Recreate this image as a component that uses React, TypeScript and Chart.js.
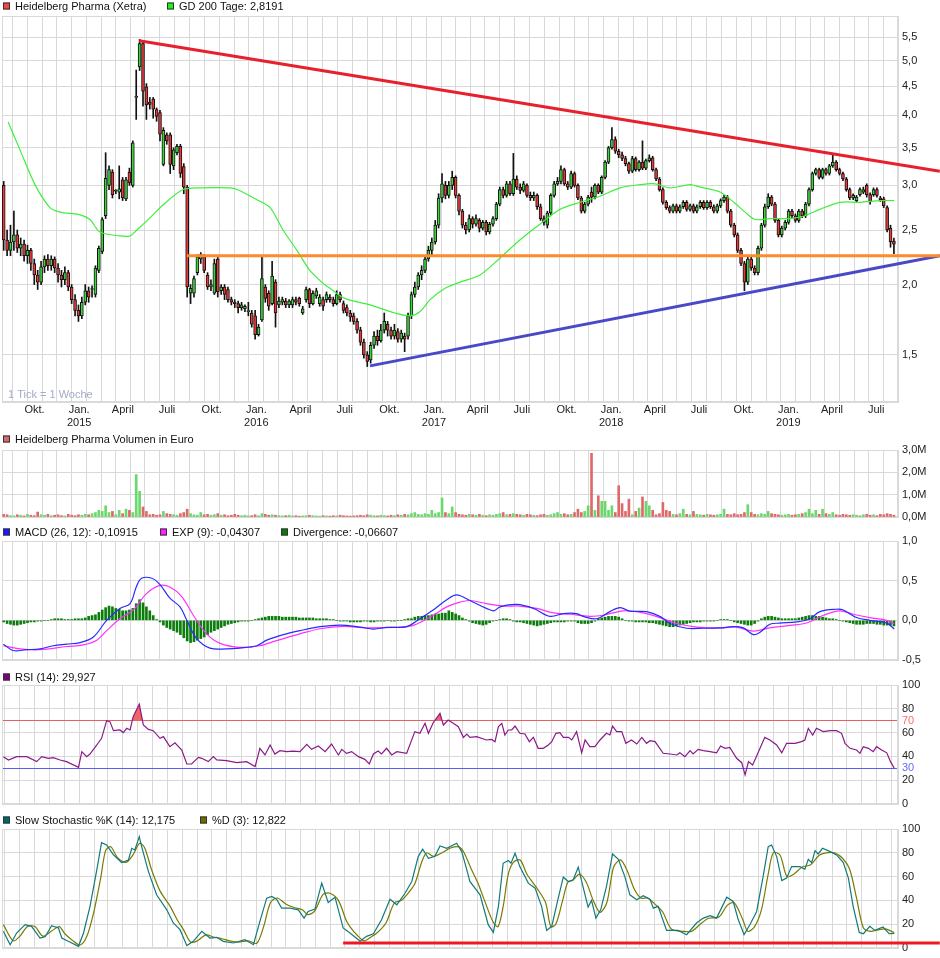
import React, { useEffect, useRef } from 'react';
import Chart from 'chart.js/auto';

// ---------- time axis ----------
const START_UTC = Date.UTC(2014, 6, 26);
const WEEK_MS = 7 * 86400000;
const X_MAX = 263.7;
const MONTH_LABELS = ['Jan.', '', '', 'April', '', '', 'Juli', '', '', 'Okt.', '', ''];

// ---------- weekly candles (Heidelberg Pharma, Xetra) ----------
const opens = [
  3.00,2.40,2.30,2.38,2.45,2.32,2.36,2.25,2.30,2.18,
  2.08,2.02,2.15,2.22,2.16,2.22,2.14,2.08,2.04,2.10,
  1.98,1.88,1.80,1.76,1.86,1.95,1.96,1.92,2.12,2.29,
  2.65,3.00,3.17,2.93,2.92,3.07,2.84,3.17,3.00,4.30,
  4.87,5.36,4.49,4.22,4.27,4.09,4.04,3.27,3.69,3.69,
  3.25,3.43,3.52,3.24,2.98,1.93,1.93,2.10,2.22,2.25,
  2.08,1.98,1.93,2.22,1.95,1.98,1.96,1.88,1.86,1.85,
  1.82,1.81,1.79,1.78,1.76,1.63,1.73,1.98,1.93,1.85,
  2.02,1.84,1.86,1.87,1.84,1.84,1.88,1.89,1.78,1.88,
  1.96,1.85,1.91,1.85,1.88,1.88,1.90,1.88,1.85,1.92,
  1.85,1.82,1.78,1.76,1.72,1.66,1.58,1.50,1.47,1.56,
  1.62,1.59,1.66,1.70,1.66,1.62,1.65,1.60,1.62,1.62,
  1.76,1.92,1.98,2.08,2.12,2.22,2.30,2.38,2.55,2.85,
  3.00,2.88,3.00,3.10,2.88,2.70,2.55,2.50,2.62,2.56,
  2.60,2.52,2.58,2.48,2.56,2.62,2.78,2.95,2.88,3.02,
  2.90,3.08,2.98,2.94,3.00,2.88,2.85,2.88,2.75,2.62,
  2.55,2.68,2.88,3.02,3.05,3.20,3.02,2.98,3.15,3.00,
  2.85,2.70,2.78,2.92,2.86,3.00,2.92,3.10,3.30,3.50,
  3.62,3.45,3.40,3.35,3.28,3.18,3.35,3.20,3.30,3.22,
  3.32,3.36,3.20,3.08,2.95,2.80,2.74,2.70,2.76,2.70,
  2.75,2.80,2.72,2.76,2.70,2.75,2.80,2.74,2.80,2.75,
  2.70,2.76,2.82,2.86,2.70,2.55,2.45,2.30,2.18,2.02,
  2.22,2.14,2.10,2.32,2.55,2.75,2.86,2.78,2.60,2.45,
  2.52,2.58,2.70,2.65,2.60,2.70,2.65,2.78,2.95,3.15,
  3.20,3.10,3.20,3.15,3.25,3.30,3.20,3.15,3.08,2.95,
  2.85,2.82,2.89,2.92,3.00,2.89,2.89,2.95,2.85,2.84,
  2.74,2.52,2.39
];
const highs = [
  3.05,2.50,2.55,2.70,2.50,2.42,2.40,2.35,2.32,2.22,
  2.12,2.20,2.25,2.26,2.25,2.24,2.18,2.12,2.15,2.12,
  2.00,1.92,1.84,1.90,2.00,1.98,1.99,2.16,2.34,2.63,
  3.43,3.25,3.20,2.95,3.25,3.10,3.10,3.22,3.60,4.81,
  5.45,5.40,4.55,4.30,4.30,4.12,4.08,3.80,3.72,3.72,
  3.50,3.55,3.55,3.28,3.00,2.00,2.07,2.26,2.28,2.26,
  2.10,2.04,2.22,2.25,2.00,2.00,1.98,1.90,1.88,1.87,
  1.86,1.84,1.86,1.80,1.80,1.70,2.25,2.00,1.95,2.20,
  2.04,1.90,1.90,1.89,1.88,1.90,1.90,1.90,1.83,1.98,
  1.97,1.95,1.97,1.92,1.90,1.94,1.92,1.90,1.95,1.94,
  1.87,1.84,1.80,1.78,1.74,1.68,1.60,1.52,1.58,1.65,
  1.66,1.70,1.78,1.72,1.68,1.70,1.67,1.66,1.64,1.78,
  1.94,2.02,2.10,2.16,2.25,2.34,2.42,2.60,2.90,3.15,
  3.05,3.05,3.18,3.12,2.90,2.72,2.58,2.66,2.64,2.66,
  2.62,2.60,2.60,2.58,2.64,2.80,2.98,2.98,3.05,3.05,
  3.42,3.12,3.02,3.05,3.02,2.92,2.92,2.90,2.78,2.65,
  2.70,2.90,3.05,3.10,3.25,3.22,3.05,3.18,3.17,3.02,
  2.87,2.80,2.88,2.98,3.02,3.02,3.12,3.32,3.52,3.80,
  3.66,3.48,3.44,3.38,3.30,3.38,3.37,3.32,3.60,3.34,
  3.40,3.38,3.22,3.10,2.97,2.82,2.76,2.78,2.78,2.77,
  2.82,2.82,2.78,2.78,2.77,2.82,2.82,2.82,2.82,2.77,
  2.78,2.84,2.88,2.88,2.72,2.57,2.47,2.32,2.20,2.25,
  2.24,2.16,2.34,2.57,2.78,2.90,2.88,2.80,2.62,2.54,
  2.60,2.72,2.72,2.67,2.72,2.72,2.80,2.97,3.17,3.22,
  3.22,3.22,3.22,3.27,3.42,3.32,3.22,3.17,3.10,2.97,
  2.90,2.88,2.97,2.98,3.02,2.91,2.97,2.97,2.87,2.86,
  2.76,2.55,2.42
];
const lows = [
  2.30,2.25,2.25,2.30,2.28,2.25,2.20,2.18,2.12,2.00,
  1.96,2.00,2.10,2.12,2.12,2.10,2.02,1.98,2.00,1.95,
  1.85,1.76,1.72,1.74,1.84,1.86,1.90,1.90,2.10,2.27,
  2.62,2.95,2.85,2.90,2.84,2.82,2.82,3.00,2.98,3.93,
  4.80,4.15,3.93,4.10,3.95,3.90,3.60,3.25,3.55,3.15,
  3.20,3.40,3.10,2.90,1.90,1.85,1.90,2.08,2.18,2.10,
  1.96,1.95,1.92,1.90,1.92,1.88,1.86,1.84,1.82,1.78,
  1.80,1.79,1.76,1.68,1.60,1.62,1.72,1.86,1.80,1.84,
  1.68,1.82,1.84,1.82,1.82,1.82,1.84,1.83,1.77,1.86,
  1.82,1.84,1.89,1.83,1.80,1.86,1.86,1.83,1.84,1.86,
  1.78,1.76,1.72,1.70,1.64,1.56,1.48,1.43,1.45,1.54,
  1.56,1.58,1.64,1.62,1.60,1.60,1.58,1.58,1.52,1.60,
  1.74,1.90,1.96,2.04,2.10,2.20,2.26,2.36,2.52,2.80,
  2.84,2.85,2.95,2.85,2.66,2.52,2.46,2.48,2.52,2.54,
  2.48,2.50,2.45,2.46,2.54,2.60,2.76,2.85,2.86,2.88,
  2.88,2.95,2.90,2.92,2.86,2.82,2.82,2.72,2.60,2.55,
  2.52,2.66,2.86,3.00,3.02,3.00,2.95,2.96,2.98,2.83,
  2.68,2.68,2.76,2.80,2.84,2.90,2.90,3.08,3.28,3.48,
  3.42,3.36,3.32,3.25,3.15,3.16,3.18,3.18,3.20,3.20,
  3.30,3.18,3.06,2.93,2.78,2.72,2.68,2.68,2.68,2.68,
  2.73,2.70,2.70,2.68,2.68,2.73,2.72,2.72,2.73,2.68,
  2.68,2.74,2.80,2.68,2.53,2.43,2.28,2.16,1.95,2.00,
  2.12,2.08,2.08,2.30,2.53,2.73,2.76,2.58,2.43,2.43,
  2.50,2.56,2.63,2.58,2.58,2.63,2.63,2.76,2.93,3.13,
  3.08,3.08,3.13,3.13,3.23,3.18,3.13,3.06,2.93,2.83,
  2.83,2.80,2.87,2.90,2.86,2.78,2.87,2.86,2.81,2.74,
  2.48,2.33,2.27
];
const closes = [
  2.40,2.30,2.38,2.45,2.32,2.36,2.25,2.30,2.18,2.08,
  2.02,2.15,2.22,2.16,2.22,2.14,2.08,2.04,2.10,1.98,
  1.88,1.80,1.76,1.86,1.95,1.90,1.96,2.14,2.32,2.61,
  3.09,3.20,2.89,2.93,2.96,2.85,3.07,3.03,3.57,4.32,
  5.36,4.41,4.17,4.18,4.10,3.98,3.70,3.76,3.60,3.27,
  3.47,3.52,3.15,2.98,1.98,1.97,2.05,2.24,2.26,2.12,
  1.98,2.00,2.18,1.94,1.98,1.92,1.88,1.86,1.85,1.82,
  1.84,1.83,1.79,1.70,1.63,1.68,2.05,1.89,1.83,2.07,
  1.78,1.87,1.88,1.84,1.87,1.88,1.86,1.85,1.81,1.96,
  1.85,1.93,1.95,1.90,1.83,1.92,1.88,1.85,1.92,1.88,
  1.80,1.78,1.75,1.72,1.66,1.58,1.50,1.46,1.56,1.62,
  1.59,1.66,1.72,1.66,1.62,1.66,1.60,1.64,1.60,1.76,
  1.92,1.98,2.08,2.12,2.22,2.30,2.38,2.55,2.85,3.02,
  2.88,3.00,3.10,2.88,2.70,2.55,2.50,2.62,2.56,2.62,
  2.52,2.58,2.48,2.56,2.62,2.78,2.95,2.88,3.02,2.90,
  3.08,2.98,2.94,3.02,2.88,2.85,2.88,2.75,2.62,2.58,
  2.68,2.88,3.02,3.05,3.20,3.02,2.98,3.15,3.00,2.85,
  2.70,2.78,2.86,2.86,3.00,2.92,3.10,3.30,3.50,3.62,
  3.45,3.40,3.35,3.28,3.18,3.35,3.20,3.30,3.22,3.32,
  3.36,3.20,3.08,2.95,2.80,2.74,2.70,2.76,2.70,2.75,
  2.80,2.72,2.76,2.70,2.75,2.80,2.74,2.80,2.75,2.70,
  2.76,2.82,2.86,2.70,2.55,2.45,2.30,2.18,2.02,2.22,
  2.14,2.10,2.32,2.55,2.75,2.86,2.78,2.60,2.45,2.52,
  2.58,2.70,2.65,2.60,2.70,2.65,2.78,2.95,3.15,3.20,
  3.10,3.20,3.15,3.25,3.30,3.20,3.15,3.08,2.95,2.85,
  2.88,2.86,2.95,2.95,2.89,2.81,2.95,2.88,2.83,2.76,
  2.50,2.38,2.36
];

// ---------- GD 200 ----------
const gdWeeks = [1.8,5.3,9.7,14.1,17.1,23.0,25.9,28.8,34.7,37.7,39.7,43.6,47.4,53.3,58.3,67.1,69.2,75.0,78.9,82.7,86.8,90.6,94.5,96.5,100.9,108.3,115.7,120.1,123.0,126.0,130.4,134.8,140.7,146.6,152.4,158.3,164.2,170.1,176.0,181.9,187.8,192.2,196.6,202.5,205.4,211.3,215.7,218.7,221.6,226.0,231.9,236.3,240.7,246.6,252.5,258.4,262.6];
const gdValues = [3.89,3.47,3.01,2.74,2.69,2.66,2.61,2.48,2.44,2.44,2.50,2.63,2.77,2.95,2.97,2.97,2.95,2.83,2.74,2.50,2.30,2.12,2.01,1.97,1.89,1.84,1.78,1.76,1.79,1.88,1.97,2.02,2.08,2.23,2.40,2.56,2.72,2.80,2.87,2.97,3.01,3.02,2.97,3.01,2.98,2.92,2.79,2.69,2.61,2.62,2.62,2.65,2.72,2.80,2.80,2.82,2.82];

// ---------- volume (Mio. Euro) ----------
const volumes = [
  0.12,0.10,0.06,0.05,0.10,0.08,0.05,0.12,0.08,0.06,
  0.22,0.10,0.08,0.12,0.06,0.08,0.10,0.06,0.05,0.12,
  0.08,0.06,0.10,0.08,0.12,0.10,0.15,0.20,0.30,0.25,
  0.50,0.20,0.25,0.10,0.30,0.15,0.35,0.30,0.20,1.90,
  1.15,0.45,0.25,0.10,0.12,0.08,0.10,0.25,0.15,0.12,
  0.10,0.08,0.15,0.20,0.35,0.15,0.10,0.08,0.20,0.10,
  0.12,0.08,0.10,0.15,0.08,0.10,0.06,0.08,0.12,0.08,
  0.06,0.08,0.05,0.06,0.10,0.06,0.15,0.12,0.08,0.10,
  0.08,0.06,0.05,0.06,0.08,0.05,0.06,0.04,0.05,0.06,
  0.08,0.06,0.05,0.04,0.06,0.05,0.04,0.06,0.05,0.08,
  0.06,0.05,0.04,0.05,0.06,0.08,0.06,0.10,0.08,0.06,
  0.05,0.08,0.06,0.05,0.08,0.06,0.10,0.08,0.12,0.10,
  0.15,0.20,0.12,0.10,0.15,0.12,0.30,0.15,0.20,0.85,
  0.20,0.15,0.45,0.20,0.12,0.10,0.08,0.12,0.10,0.08,
  0.12,0.08,0.06,0.10,0.08,0.12,0.15,0.20,0.10,0.12,
  0.15,0.12,0.10,0.08,0.12,0.10,0.08,0.06,0.10,0.12,
  0.08,0.10,0.15,0.20,0.12,0.15,0.10,0.12,0.20,0.35,
  0.20,0.25,0.50,2.85,0.30,0.95,0.70,0.70,0.30,0.50,
  0.20,1.40,0.60,0.25,0.80,0.10,0.25,0.40,0.90,0.70,
  0.50,0.30,0.10,0.15,0.65,0.30,0.25,0.12,0.10,0.15,
  0.35,0.12,0.10,0.25,0.12,0.10,0.08,0.12,0.10,0.08,
  0.10,0.12,0.35,0.12,0.10,0.15,0.10,0.12,0.20,0.55,
  0.20,0.12,0.10,0.15,0.12,0.25,0.15,0.12,0.10,0.08,
  0.10,0.12,0.08,0.10,0.12,0.15,0.20,0.35,0.15,0.30,
  0.12,0.35,0.15,0.12,0.20,0.10,0.08,0.12,0.10,0.08,
  0.10,0.08,0.06,0.10,0.12,0.08,0.10,0.06,0.12,0.10,
  0.15,0.12,0.08
];

// ---------- MACD ----------
const macdWeeks = [0.4,3.3,7.3,11.2,15.1,19.0,23.0,26.9,30.8,34.7,37.7,39.6,41.1,44.1,46.5,49.4,52.4,54.4,57.3,61.2,66.1,70.0,75.0,77.9,82.8,87.7,93.6,99.5,105.4,109.3,113.2,119.1,123.0,126.9,130.9,133.8,137.7,144.6,146.6,151.5,156.4,161.3,165.2,169.1,171.1,175.0,178.9,181.9,184.8,189.7,193.6,196.6,201.5,206.4,211.3,215.2,218.2,221.1,223.1,226.0,228.9,233.9,237.8,240.7,245.6,247.6,251.5,255.4,260.4,262.6];
const macdValues = [-0.30,-0.38,-0.37,-0.36,-0.32,-0.30,-0.28,-0.21,0.00,0.15,0.21,0.43,0.53,0.53,0.45,0.28,0.17,0.00,-0.23,-0.35,-0.36,-0.35,-0.32,-0.25,-0.18,-0.13,-0.08,-0.06,-0.085,-0.11,-0.09,-0.08,0.02,0.13,0.26,0.32,0.25,0.12,0.17,0.20,0.15,0.05,0.085,0.085,0.05,0.02,0.11,0.16,0.115,0.11,0.05,-0.04,-0.10,-0.10,-0.095,-0.08,-0.095,-0.18,-0.15,-0.05,-0.035,-0.02,0.02,0.11,0.14,0.13,0.035,0.00,-0.035,-0.109];
const expWeeks = [0.4,5.3,11.2,19.0,23.9,27.9,30.8,34.7,38.6,42.6,46.5,49.4,52.9,56.3,60.2,64.2,70.0,75.9,80.8,87.7,93.6,100.4,107.3,117.1,121.0,126.9,130.9,134.8,137.7,142.6,147.5,152.4,157.4,162.3,167.2,173.0,177.0,182.8,188.7,194.6,198.6,204.4,212.3,216.2,221.1,226.0,231.9,236.8,241.7,246.6,250.5,255.4,260.4,262.6];
const expValues = [-0.32,-0.36,-0.37,-0.33,-0.31,-0.25,-0.13,0.02,0.13,0.34,0.44,0.42,0.30,0.064,-0.17,-0.29,-0.34,-0.32,-0.255,-0.17,-0.106,-0.077,-0.094,-0.085,-0.064,0.064,0.17,0.23,0.25,0.21,0.18,0.18,0.15,0.094,0.077,0.05,0.064,0.12,0.094,0.02,-0.04,-0.085,-0.094,-0.085,-0.136,-0.094,-0.064,-0.034,0.064,0.12,0.077,0.034,0.00,-0.043];
const divergence = [
  -0.02,-0.04,-0.05,-0.06,-0.06, -0.05,-0.04,-0.03,-0.02,-0.02,
  -0.01,-0.01,0.00,0.00,0.01, 0.02,0.02,0.02,0.01,0.01,
  0.01,0.02,0.02,0.02,0.03, 0.05,0.06,0.07,0.10,0.13,
  0.16,0.18,0.17,0.15,0.14, 0.12,0.12,0.13,0.15,0.21,
  0.26,0.22,0.17,0.12,0.06, 0.01,-0.02,-0.06,-0.09,-0.11,
  -0.13,-0.15,-0.18,-0.22,-0.26, -0.28,-0.27,-0.25,-0.23,-0.21,
  -0.18,-0.15,-0.13,-0.11,-0.09, -0.07,-0.05,-0.04,-0.03,-0.02,
  -0.01,-0.01,-0.01,0.00,0.01, 0.02,0.03,0.04,0.05,0.05,
  0.05,0.05,0.04,0.04,0.04, 0.04,0.04,0.03,0.03,0.03,
  0.03,0.03,0.02,0.02,0.02, 0.02,0.01,0.01,0.00,-0.01,
  -0.01,-0.01,-0.02,-0.02,-0.02, -0.02,-0.01,-0.01,-0.02,-0.02,
  -0.01,-0.01,-0.01,0.00,-0.01, -0.01,0.00,0.00,0.01,0.02,
  0.02,0.04,0.05,0.05,0.06, 0.06,0.07,0.08,0.08,0.09,
  0.09,0.12,0.10,0.08,0.06, 0.03,0.01,-0.01,-0.03,-0.04,
  -0.05,-0.06,-0.05,-0.03,-0.01, 0.00,0.01,0.02,0.02,0.01,
  -0.01,-0.02,-0.02,-0.03,-0.04, -0.05,-0.06,-0.07,-0.06,-0.05,
  -0.04,-0.03,-0.02,-0.02,-0.02, -0.02,-0.01,-0.01,-0.01,-0.03,
  -0.04,-0.04,-0.04,-0.03,-0.01, 0.02,0.03,0.04,0.05,0.05,
  0.05,0.04,0.02,0.00,-0.01, -0.01,-0.02,-0.02,-0.02,-0.02,
  -0.03,-0.03,-0.04,-0.05,-0.06, -0.07,-0.08,-0.08,-0.07,-0.06,
  -0.05,-0.04,-0.03,-0.02,-0.02, -0.02,-0.01,-0.01,-0.01,-0.01,
  0.00,0.01,0.01,0.01,0.00, -0.02,-0.03,-0.04,-0.05,-0.06,
  -0.06,-0.04,-0.01,0.02,0.04, 0.05,0.05,0.04,0.03,0.02,
  0.02,0.02,0.02,0.02,0.03, 0.04,0.05,0.06,0.06,0.05,
  0.05,0.04,0.03,0.02,0.02, 0.01,0.00,-0.01,-0.02,-0.03,
  -0.04,-0.05,-0.05,-0.05,-0.04, -0.04,-0.04,-0.05,-0.05,-0.06,
  -0.06,-0.06,-0.07
];

// ---------- RSI (14) ----------
const rsiWeeks = [0.4,1.9,4.3,7.3,10.2,11.7,13.6,15.1,17.1,19.0,22.5,23.5,24.9,25.9,27.9,29.3,30.8,31.8,32.8,34.7,35.7,36.7,37.7,38.6,40.4,41.6,43.1,44.5,46.5,47.5,49.4,50.9,52.9,54.4,55.8,57.8,58.8,60.7,62.2,63.2,66.1,69.1,72.0,74.5,75.9,77.4,78.9,80.3,81.8,83.8,85.7,87.7,89.7,91.1,93.1,95.1,97.0,99.0,100.0,101.4,102.9,104.9,106.8,108.1,109.3,110.7,111.7,113.2,114.7,116.2,119.1,121.5,123.0,124.5,125.5,126.9,128.9,129.9,131.3,132.8,134.3,135.8,136.8,137.7,139.7,142.6,144.1,145.1,146.1,147.1,148.0,149.0,150.0,151.0,152.4,153.9,155.2,156.4,157.8,159.3,160.8,161.8,163.0,164.2,165.2,166.7,167.7,169.1,170.6,171.6,173.0,174.5,176.0,177.9,178.9,179.7,180.9,182.4,183.6,185.3,186.8,188.3,189.7,190.7,192.2,194.6,196.6,198.6,199.5,201.0,202.5,203.4,204.9,206.4,208.4,210.3,211.5,212.8,214.2,216.2,217.7,218.7,219.7,220.9,222.1,224.5,226.0,228.0,229.5,230.9,233.4,235.3,236.3,237.3,238.6,239.7,241.7,243.7,245.6,247.1,248.1,249.6,251.5,252.5,253.5,255.0,256.4,257.4,258.9,260.4,261.5,262.6];
const rsiValues = [39.8,37,39.8,39.8,35.6,39.8,38.4,39,37,35.6,30.8,44,39.8,42,49.6,55.2,70,69,61.6,62.2,60,63.6,62.2,73.4,84,66.4,62.7,61.6,55.2,56.6,48.2,51.5,45.4,33.6,33.6,39.2,38.4,35.6,39.8,37,36.4,34.7,35.6,31.4,46.8,41.2,49.6,42,44.8,44,44.5,44,50.1,45.9,48.7,44,50.4,41.2,45.9,42.5,44,39.8,37.5,33.6,42,44.5,42,46.8,41.2,44,42.6,60.8,59.4,67.8,59.4,68.3,76.2,66.4,70.6,67.8,65,56,58.8,56,56.6,53.8,54.3,52.4,65,67.8,58,62.2,62.2,65.5,59.4,58.8,52.4,56,46.8,46.8,49.6,52.4,59.4,59.9,56,56,53.8,60.8,43,53.8,48.2,48.2,53.8,59.4,58,65.5,60.8,60.8,51,53.8,50.4,56,51,53.2,52.4,42.6,42,41.2,43,39.8,44.8,42,45.9,44.8,44,43,48.7,46.8,47.6,38.4,34.7,24.4,35.6,32.8,40.3,56,53.8,49.6,43,51,51,52.4,53.8,63.6,58,63.6,60.8,61.6,61.6,59.4,51,46.8,45.4,42.6,48.2,46.8,44,48.2,45.4,43,35.6,30];

// ---------- Slow Stochastic ----------
const stochKWeeks = [0.4,2.4,4.3,6.8,8.7,11.2,12.7,14.6,16.6,17.6,19.5,22.5,24.0,25.9,27.9,29.3,30.8,32.8,35.2,37.2,38.2,39.1,40.4,41.1,43.1,45.5,48.5,50.4,52.4,54.4,56.3,58.8,61.2,63.2,65.1,68.1,71.5,74.0,75.9,77.9,79.4,80.8,82.3,84.8,87.2,88.9,90.1,92.1,94.1,96.0,98.0,100.4,102.4,105.4,107.3,109.3,111.7,114.2,116.2,118.6,120.6,122.5,123.8,125.5,127.4,128.9,130.9,133.8,135.3,136.8,137.7,140.7,143.1,144.6,146.1,147.5,149.0,149.8,151.0,152.4,154.9,156.9,158.8,160.3,161.8,163.7,165.2,166.7,168.1,169.6,171.1,172.5,173.5,174.8,176.2,177.9,179.7,181.4,183.3,184.8,186.8,188.7,190.7,191.7,193.1,195.6,199.0,201.5,204.4,206.4,208.4,210.3,213.3,215.2,216.7,218.4,220.1,222.1,224.0,225.5,226.5,228.0,229.5,230.9,232.4,234.8,236.3,237.3,238.3,239.3,240.2,241.5,243.7,245.6,247.6,249.1,250.5,252.3,253.5,255.4,256.9,259.3,261.1,262.6];
const stochKValues = [14,2.8,12.6,19.6,18.2,8.4,9.5,18.7,16.8,8.4,5.6,1.4,12.6,35,65.6,88.5,86.6,78.2,71.8,74,83.8,82.4,93.6,85.2,64.2,44.7,32.1,21,15.4,2,5.6,14,8.4,9,5.6,4.2,7,2.8,22.3,41.9,43.3,41,33.5,33.5,32.1,25.1,30.7,32.7,54.5,38.3,42.7,16.8,12.6,5.6,9.8,12,23.7,41,36.3,46,55.9,76.8,83,75.4,77,85.8,83.8,88,81,65.6,55.9,44.7,19.6,13.1,35,71.2,73.5,71.2,79.6,68.4,54.5,50.3,35,14.8,18.2,41.9,59.5,55.9,57.3,67.9,50.3,34.4,40,25.1,32.1,51.7,79,74.6,60,44.7,40.5,43.9,41,33.5,35,14.8,14.8,11.2,21,25.1,27.1,25.1,42.7,39.1,23.7,11.2,19.6,30.7,60,85.2,86.6,76.8,56.7,58.7,68.4,68.4,66.2,74.6,71.8,81.8,79,83.8,81,78.2,71.8,58.7,35,13.1,12,18.2,14.8,17.6,12,12.175];
const stochDWeeks = [0.4,3.3,5.3,7.5,9.7,12.0,14.5,16.8,18.5,20.5,23.0,25.0,27.0,29.0,30.5,32.0,34.0,36.5,38.5,40.5,42.0,44.0,46.5,49.5,51.5,53.5,55.5,57.5,60.0,62.5,64.5,67.0,69.5,72.5,75.0,77.0,79.0,81.0,83.5,86.0,88.5,90.0,92.0,94.5,96.5,99.0,101.5,103.5,106.5,108.5,110.5,113.0,115.5,117.5,119.5,121.5,123.5,125.0,127.0,129.5,132.0,134.5,136.0,138.0,140.0,142.0,144.5,146.0,147.5,149.0,150.5,152.5,154.5,157.5,160.0,161.5,163.0,165.0,166.5,168.0,170.0,172.0,174.0,176.0,178.0,180.0,182.0,184.0,186.0,188.0,190.0,192.5,194.5,197.0,200.5,203.0,205.5,208.0,211.0,213.5,215.5,218.0,219.5,221.5,223.5,225.5,227.0,229.0,231.0,233.0,235.5,238.0,240.5,242.5,245.0,247.5,249.5,251.5,253.5,255.5,257.5,260.0,262.6];
const stochDValues = [19.6,6,10,18,18,10,14,18,12,7,2.5,10,30,58,82,85,76,72,78,88,84,66,48,35,24,15,5,6,11,9,8,6,5,6,4,18,38,42,37,34,32,28,31,45,46,40,22,14,6,9,13,21,38,40,46,54,72,80,77,80,84,85,80,67,55,40,22,18,35,62,72,74,62,50,38,18,20,40,55,57,62,55,40,30,38,68,74,65,50,42,42,36,30,16,14,14,20,25,26,36,38,24,14,18,32,62,80,78,60,62,68,70,78,80,80,75,66,42,17,14,15,16,12.822];

// ---------- drawn studies ----------
const resistanceLine = [[40.4, 5.42], [276.0, 3.18]];
const supportLine = [[108.3, 1.434], [276.0, 2.25]];
const horizontalLine = [[54.4, 2.25], [276.0, 2.25]];
const stochLowLine = [[100.4, 4.2], [276.0, 4.2]];

// ---------- axis ticks ----------
const priceTicks = [1.5, 2.0, 2.5, 3.0, 3.5, 4.0, 4.5, 5.0, 5.5];
const volumeTicks = [0, 1, 2, 3];
const macdTicks = [-0.5, 0, 0.5, 1.0];
const rsiTicks = [0, 20, 30, 40, 60, 70, 80, 100];
const stochTicks = [0, 20, 40, 60, 80, 100];

// ---------- styling ----------
const GRID = '#d9d9d9';
const FONT = '"Liberation Sans", Arial, sans-serif';
const UP = '#3cd63c';
const DOWN = '#e83a3a';

Chart.defaults.font.family = FONT;
Chart.defaults.font.size = 11;
Chart.defaults.color = '#222';

const MONTHS: { value: number; label: any }[] = (() => {
  const out: { value: number; label: any }[] = [];
  for (let y = 2014; y <= 2019; y++) {
    for (let m = 0; m < 12; m++) {
      const w = (Date.UTC(y, m, 1) - START_UTC) / WEEK_MS;
      if (w > 0 && w < X_MAX) out.push({ value: w, label: m === 0 ? ['Jan.', String(y)] : MONTH_LABELS[m] });
    }
  }
  return out;
})();

function xScale(showLabels: boolean, height: number) {
  return {
    type: 'linear',
    min: 0,
    max: X_MAX,
    offset: false,
    grid: { color: GRID, drawTicks: false, lineWidth: 1 },
    border: { display: true, color: GRID },
    ticks: {
      display: showLabels,
      autoSkip: false,
      maxRotation: 0,
      minRotation: 0,
      padding: 1,
      color: '#222',
      font: { size: 11, family: FONT },
      callback: (_v: any, i: number) => (MONTHS[i] ? MONTHS[i].label : ''),
    },
    afterBuildTicks: (s: any) => {
      s.ticks = MONTHS.map((m) => ({ value: m.value }));
    },
    afterFit: (s: any) => {
      s.height = height;
      s.paddingLeft = 0;
      s.paddingRight = 0;
    },
  };
}

function yScale(cfg: any) {
  return {
    type: cfg.type || 'linear',
    position: 'right',
    min: cfg.min,
    max: cfg.max,
    grid: { color: cfg.gridColor || GRID, drawTicks: false, lineWidth: 1 },
    border: { display: true, color: GRID },
    ticks: {
      autoSkip: false,
      padding: 4,
      color: cfg.tickColor || '#222',
      font: { size: 11, family: FONT },
      callback: cfg.format,
    },
    afterBuildTicks: (s: any) => {
      s.ticks = cfg.ticks.map((v: number) => ({ value: v }));
    },
    afterFit: (s: any) => {
      s.width = 42;
      s.paddingTop = 0;
      s.paddingBottom = 0;
    },
  };
}

const framePlugin = {
  id: 'frame',
  beforeDatasetsDraw(chart: any) {
    const { left, top, right, bottom } = chart.chartArea;
    const ctx = chart.ctx;
    ctx.save();
    ctx.strokeStyle = GRID;
    ctx.lineWidth = 1;
    ctx.strokeRect(Math.round(left) + 0.5, Math.round(top) + 0.5, Math.round(right - left) - 1, Math.round(bottom - top) - 1);
    ctx.restore();
  },
};

function legendPlugin(items: { x: number; color: string; text: string }[], yMid: number) {
  return {
    id: 'panelLegend',
    afterDraw(chart: any) {
      const ctx = chart.ctx;
      ctx.save();
      ctx.font = '11px ' + FONT;
      ctx.textBaseline = 'middle';
      ctx.textAlign = 'left';
      for (const it of items) {
        ctx.fillStyle = it.color;
        ctx.fillRect(it.x, yMid - 3.5, 7, 7);
        ctx.strokeStyle = '#333';
        ctx.lineWidth = 1;
        ctx.strokeRect(it.x + 0.5, yMid - 3, 6, 6);
        ctx.fillStyle = '#111';
        ctx.fillText(it.text, it.x + 12, yMid + 0.5);
      }
      ctx.restore();
    },
  };
}

function segmentPlugin(id: string, segs: { pts: number[][]; color: string; width: number }[]) {
  return {
    id,
    afterDatasetsDraw(chart: any) {
      const xs = chart.scales.x;
      const ys = chart.scales.y;
      const ctx = chart.ctx;
      ctx.save();
      ctx.lineCap = 'butt';
      for (const s of segs) {
        ctx.strokeStyle = s.color;
        ctx.lineWidth = s.width;
        ctx.beginPath();
        ctx.moveTo(xs.getPixelForValue(s.pts[0][0]), ys.getPixelForValue(s.pts[0][1]));
        ctx.lineTo(xs.getPixelForValue(s.pts[1][0]), ys.getPixelForValue(s.pts[1][1]));
        ctx.stroke();
      }
      ctx.restore();
    },
  };
}

const pts = (xs: number[], ys: number[]) => xs.map((x, i) => ({ x, y: ys[i] }));
const fmt1 = (v: number) => v.toFixed(1).replace('.', ',');

function baseOptions(top: number) {
  return {
    responsive: false,
    animation: false,
    devicePixelRatio: 1,
    events: [],
    layout: { padding: { left: 2, right: 0, top, bottom: 0 } },
    plugins: { legend: { display: false }, tooltip: { enabled: false } },
  };
}

function priceConfig(): any {
  const bodies = opens.map((o, i) => ({ x: i + 0.5, y: [o, closes[i]] }));
  const wicks = lows.map((l, i) => ({ x: i + 0.5, y: [l, highs[i]] }));
  const bodyColors = opens.map((o, i) => (closes[i] >= o ? UP : DOWN));
  return {
    type: 'bar',
    data: {
      datasets: [
        { type: 'line', data: pts(gdWeeks, gdValues), borderColor: '#3cf03c', borderWidth: 1.2, pointRadius: 0, tension: 0.3, order: 0 },
        { type: 'bar', data: bodies, backgroundColor: bodyColors, borderColor: '#111', borderWidth: 1, borderSkipped: false, barThickness: 3, grouped: false, minBarLength: 1, order: 1 },
        { type: 'bar', data: wicks, backgroundColor: '#111', borderWidth: 0, barThickness: 1, grouped: false, order: 2 },
      ],
    },
    options: {
      ...baseOptions(16),
      scales: {
        x: xScale(true, 28),
        y: yScale({ type: 'logarithmic', min: 1.237, max: 6.0, ticks: priceTicks, format: (v: number) => fmt1(v) }),
      },
    },
    plugins: [
      framePlugin,
      legendPlugin([
        { x: 3, color: '#f04848', text: 'Heidelberg Pharma (Xetra)' },
        { x: 167, color: '#22ee22', text: 'GD 200 Tage: 2,8191' },
      ], 6),
      segmentPlugin('trend', [
        { pts: supportLine, color: '#4848c8', width: 3 },
        { pts: horizontalLine, color: '#ff8a2a', width: 3 },
        { pts: resistanceLine, color: '#e8202c', width: 3 },
      ]),
      {
        id: 'tickNote',
        afterDraw(chart: any) {
          const ctx = chart.ctx;
          ctx.save();
          ctx.font = '11px ' + FONT;
          ctx.fillStyle = '#a3abc6';
          ctx.textBaseline = 'middle';
          ctx.fillText('1 Tick = 1 Woche', chart.chartArea.left + 6, chart.chartArea.bottom - 7);
          ctx.restore();
        },
      },
    ],
  };
}

function volumeConfig(): any {
  const colors = opens.map((o, i) => (closes[i] >= o ? '#6ad86a' : '#e06868'));
  return {
    type: 'bar',
    data: {
      datasets: [
        { type: 'bar', data: volumes.map((v, i) => ({ x: i + 0.5, y: v })), backgroundColor: colors, barThickness: 2, grouped: false },
      ],
    },
    options: {
      ...baseOptions(20),
      scales: {
        x: xScale(false, 5),
        y: yScale({ min: 0, max: 3, ticks: volumeTicks, format: (v: number) => fmt1(v) + 'M' }),
      },
    },
    plugins: [framePlugin, legendPlugin([{ x: 3, color: '#d46a6a', text: 'Heidelberg Pharma Volumen in Euro' }], 9)],
  };
}

function macdConfig(): any {
  return {
    type: 'bar',
    data: {
      datasets: [
        { type: 'line', data: pts(macdWeeks, macdValues), borderColor: '#2a2aff', borderWidth: 1.2, pointRadius: 0, tension: 0.35, order: 0 },
        { type: 'line', data: pts(expWeeks, expValues), borderColor: '#ff30ff', borderWidth: 1.2, pointRadius: 0, tension: 0.35, order: 1 },
        { type: 'bar', data: divergence.map((v, i) => ({ x: i + 0.5, y: v })), backgroundColor: '#0b7d0b', barThickness: 2, grouped: false, order: 2 },
      ],
    },
    options: {
      ...baseOptions(19),
      scales: {
        x: xScale(false, 8),
        y: yScale({ min: -0.5, max: 1.0, ticks: macdTicks, format: (v: number) => fmt1(v) }),
      },
    },
    plugins: [
      framePlugin,
      legendPlugin([
        { x: 3, color: '#1a1aff', text: 'MACD (26, 12): -0,10915' },
        { x: 160, color: '#ff22ff', text: 'EXP (9): -0,04307' },
        { x: 281, color: '#0a7a0a', text: 'Divergence: -0,06607' },
      ], 10),
    ],
  };
}

function rsiConfig(): any {
  return {
    type: 'line',
    data: {
      datasets: [
        {
          data: pts(rsiWeeks, rsiValues),
          borderColor: '#8a1a8a',
          borderWidth: 1.2,
          pointRadius: 0,
          tension: 0,
          fill: { target: { value: 70 }, above: '#f06464', below: 'rgba(0,0,0,0)' },
        },
      ],
    },
    options: {
      ...baseOptions(17),
      scales: {
        x: xScale(false, 6),
        y: yScale({
          min: 0,
          max: 100,
          ticks: rsiTicks,
          format: (v: number) => String(v),
          gridColor: (c: any) => (c.tick && c.tick.value === 70 ? '#e26060' : c.tick && c.tick.value === 30 ? '#5a5aff' : GRID),
          tickColor: (c: any) => (c.tick && c.tick.value === 70 ? '#ff6a6a' : c.tick && c.tick.value === 30 ? '#6a6aff' : '#222'),
        }),
      },
    },
    plugins: [framePlugin, legendPlugin([{ x: 3, color: '#800080', text: 'RSI (14): 29,927' }], 9)],
  };
}

function stochConfig(): any {
  return {
    type: 'line',
    data: {
      datasets: [
        { data: pts(stochKWeeks, stochKValues), borderColor: '#137a7a', borderWidth: 1.2, pointRadius: 0, tension: 0, order: 0 },
        { data: pts(stochDWeeks, stochDValues), borderColor: '#7a7a00', borderWidth: 1.2, pointRadius: 0, tension: 0.3, order: 1 },
      ],
    },
    options: {
      ...baseOptions(19),
      scales: {
        x: xScale(false, 10),
        y: yScale({ min: 0, max: 100, ticks: stochTicks, format: (v: number) => String(v) }),
      },
    },
    plugins: [
      framePlugin,
      legendPlugin([
        { x: 3, color: '#006666', text: 'Slow Stochastic %K (14): 12,175' },
        { x: 200, color: '#6b6b00', text: '%D (3): 12,822' },
      ], 10),
      segmentPlugin('stochLine', [{ pts: stochLowLine, color: '#ee1822', width: 3 }]),
    ],
  };
}

function Panel({ top, height, build }: { top: number; height: number; build: () => any }) {
  const ref = useRef<HTMLCanvasElement | null>(null);
  useEffect(() => {
    if (!ref.current) return;
    const chart = new Chart(ref.current, build());
    return () => chart.destroy();
  }, []);
  return (
    <canvas
      ref={ref}
      width={940}
      height={height}
      style={{ position: 'absolute', left: 0, top, width: 940, height, display: 'block' }}
    />
  );
}

export default function App() {
  return (
    <div style={{ position: 'absolute', left: 0, top: 0, width: 940, height: 958, background: '#fff', overflow: 'hidden' }}>
      <Panel top={0} height={430} build={priceConfig} />
      <Panel top={430} height={92} build={volumeConfig} />
      <Panel top={522} height={146} build={macdConfig} />
      <Panel top={668} height={142} build={rsiConfig} />
      <Panel top={810} height={148} build={stochConfig} />
    </div>
  );
}
